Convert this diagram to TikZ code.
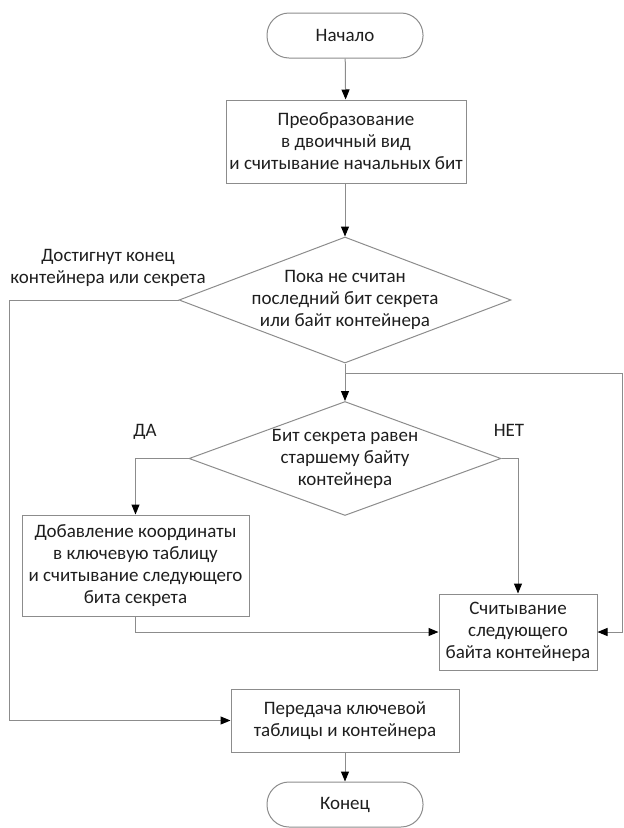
\documentclass[tikz,border=0pt]{standalone}
\usepackage{fontspec}
\setmainfont{Carlito}
\usepackage{tikz}
\usetikzlibrary{arrows.meta, shapes.geometric}
\definecolor{liniengrau}{HTML}{8C8C8C}
\definecolor{schrift}{HTML}{1E1E1E}

\begin{document}
\begin{tikzpicture}[x=1pt, y=-1pt, line width=1pt, font=\fontsize{19}{22}\selectfont,
    block/.style={draw=liniengrau, text=schrift, align=center, inner sep=0pt},
    term/.style={block, rounded corners=22pt, minimum width=156pt, minimum height=45pt},
    raute/.style={block, shape=diamond, inner xsep=-60pt, inner ysep=0pt},
    marke/.style={text=schrift, align=center, inner sep=0pt},
    pfeil/.style={draw=liniengrau, -{Triangle[length=10pt, width=8pt, color=black]}}]
    % Bildgroesse wie die Vorlage (624 x 828)
    \useasboundingbox (0,0) rectangle (624,828);

    % --- 1. START UND VORBEREITUNG ---
    \node[term] (nachalo) at (345,35.5) {Начало};
    \node[block, minimum width=240pt, minimum height=83pt] (preobr) at (346,141.5)
        {Преобразование\\в двоичный вид\\и считывание начальных бит};

    % --- 2. SCHLEIFE ---
    \node[raute, aspect=2.63, minimum width=332pt, minimum height=126pt] (poka) at (345,300)
        {Пока не считан\\последний бит секрета\\или байт контейнера};
    \node[marke] (ende) at (108,268) {Достигнут конец\\контейнера или секрета};

    \node[raute, aspect=2.74, minimum width=312pt, minimum height=114pt] (bit) at (345,458.5)
        {Бит секрета равен\\старшему байту\\контейнера};
    \node[marke] (da) at (145,432) {ДА};
    \node[marke] (net) at (509,430) {НЕТ};

    \node[block, minimum width=227pt, minimum height=101pt] (dobav) at (135.5,565.5)
        {Добавление координаты\\в ключевую таблицу\\и считывание следующего\\бита секрета};
    \node[block, minimum width=158pt, minimum height=76pt] (schit) at (518,632)
        {Считывание\\следующего\\байта контейнера};

    % --- 3. ABSCHLUSS ---
    \node[block, minimum width=228pt, minimum height=63pt] (pered) at (345,720.5)
        {Передача ключевой\\таблицы и контейнера};
    \node[term] (konec) at (345,804.5) {Конец};

    % Hilfspunkte fuer die Rueckfuehrungen
    \coordinate (links) at (9,0);
    \coordinate (rechts) at (622,0);
    \coordinate (abzw) at (345,373);

    % --- VERBINDUNGEN ---
    \draw[pfeil] (nachalo) -- (preobr);
    \draw[pfeil] (preobr.south -| poka.north) -- (poka);
    \draw[pfeil] (poka) -- (bit);
    \draw[pfeil] (poka.west) -- (poka.west -| links) |- (pered.west);
    \draw[pfeil] (bit.west) -| (dobav.north);
    \draw[pfeil] (bit.east) -| (schit.north);
    \draw[pfeil] (dobav.south) |- (schit.west);
    \draw[pfeil] (abzw) -- (abzw -| rechts) |- (schit.east);
    \draw[pfeil] (pered) -- (konec);

\end{tikzpicture}
\end{document}
